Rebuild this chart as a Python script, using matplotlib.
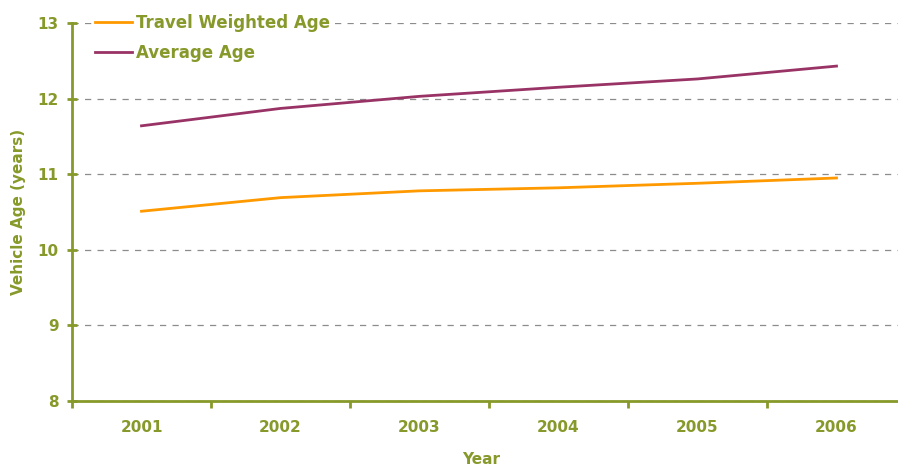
import numpy as np
import matplotlib.pyplot as plt

years = ['2001', '2002', '2003', '2004', '2005', '2006']
travel_weighted = [10.51, 10.69, 10.78, 10.82, 10.88, 10.95]
average_age = [11.64, 11.87, 12.03, 12.15, 12.26, 12.43]

green = '#86992A'
x = np.arange(len(years))

fig = plt.figure(figsize=(8.98, 4.68), dpi=100)
ax = fig.add_axes([72/898, 1-401/468, 834/898, 378/468])

ax.plot(x, travel_weighted, color='#FF9900', lw=2, label='Travel Weighted Age')
ax.plot(x, average_age, color='#993366', lw=2, label='Average Age')

ax.set_xlim(-0.5, len(years) - 0.5)
ax.set_ylim(8, 13)
ax.set_yticks([8, 9, 10, 11, 12, 13])
ax.set_xticks(np.arange(-0.5, len(years)), [''] * (len(years) + 1))
ax.set_xticks(x, years, minor=True)

ax.yaxis.grid(True, color='#8c8c8c', ls=(0, (5, 5)), lw=0.9)
ax.set_axisbelow(True)
for s in ['top', 'right']:
    ax.spines[s].set_visible(False)
for s in ['left', 'bottom']:
    ax.spines[s].set_color(green)
    ax.spines[s].set_linewidth(2)

ax.tick_params(axis='y', which='major', colors=green, direction='inout', length=7, width=2,
               labelsize=11, pad=6)
ax.tick_params(axis='x', which='major', colors=green, direction='out', length=5, width=2)
ax.tick_params(axis='x', which='minor', length=0, colors=green, labelsize=11, pad=14)
for lab in ax.get_yticklabels() + ax.get_xticklabels(minor=True):
    lab.set_fontweight('bold')

ax.set_ylabel('Vehicle Age (years)', color=green, fontsize=11, fontweight='bold', labelpad=8)
ax.set_xlabel('Year', color=green, fontsize=11, fontweight='bold')
ax.xaxis.set_label_coords(0.49, -0.135)

leg = ax.legend(loc='upper left', bbox_to_anchor=(0.0276, 1.025), frameon=True,
                facecolor='white', edgecolor='none', framealpha=1, fancybox=False,
                borderpad=0, borderaxespad=0,
                handlelength=2.2, handletextpad=0.25, labelspacing=0.72,
                prop={'size': 12, 'weight': 'bold'})
for t in leg.get_texts():
    t.set_color(green)

fig.savefig('out.png', dpi=100)
